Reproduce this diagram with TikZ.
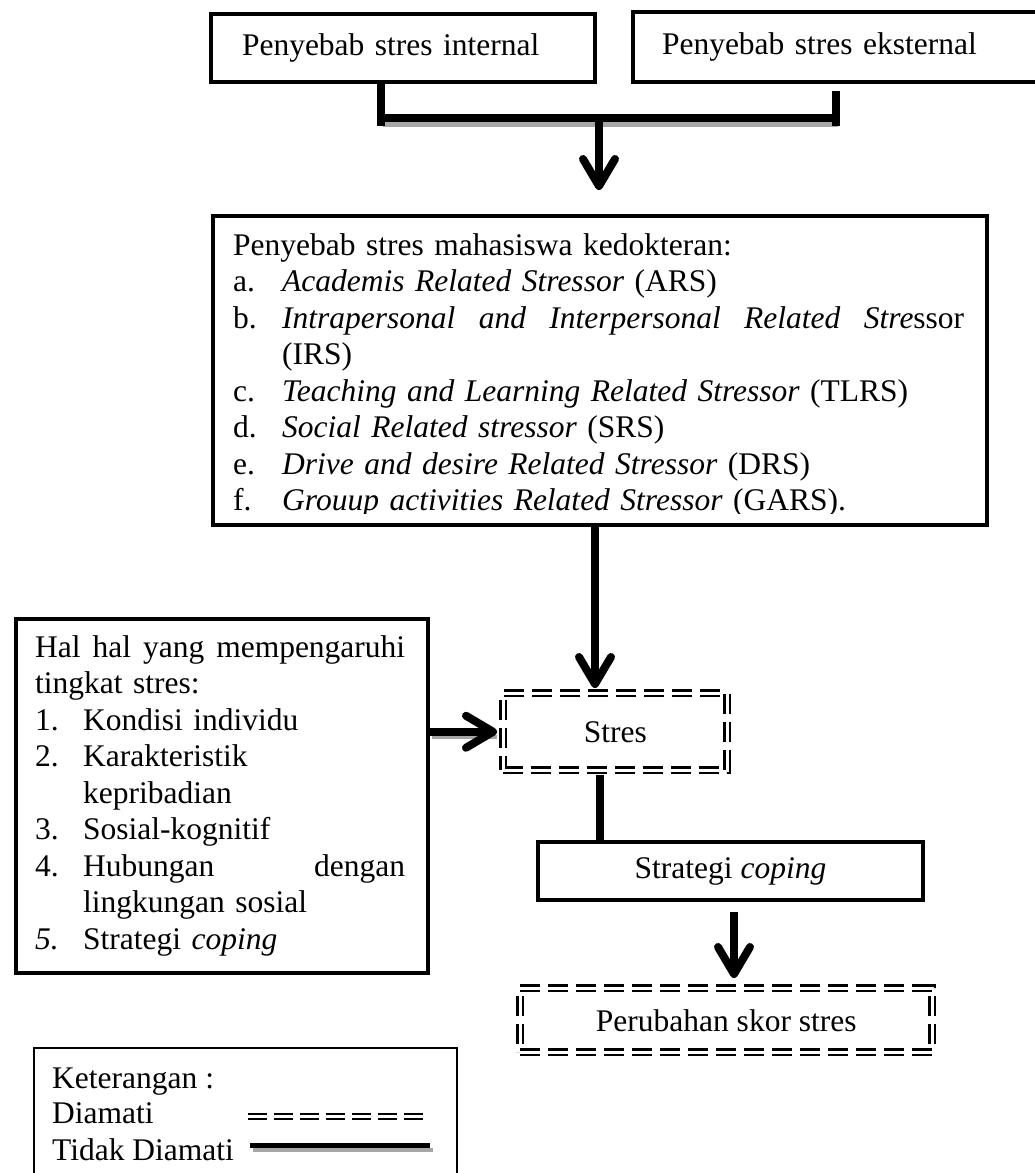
\documentclass[tikz,border=0pt]{standalone}
\usepackage{fontspec}
\setmainfont{Liberation Serif}
\usetikzlibrary{arrows.meta}
\newcommand\myitem[3]{\par\hangindent=#1\hangafter=1\noindent\makebox[#1][l]{#2}#3\par}
\newcommand\parsetup{\hyphenpenalty=10000\exhyphenpenalty=10000\tolerance=10000\hbadness=10000\parindent=0pt\leftskip=0pt\rightskip=0pt\parfillskip=0pt plus 1fil\relax}
\begin{document}
\begin{tikzpicture}[x=1pt,y=-1pt,
  every node/.style={font=\fontsize{31.5}{36.5}\selectfont},
  solidbox/.style={draw, line width=4pt, rectangle, inner sep=0pt, anchor=north west},
  ddbox/.style={draw, dash pattern=on 20pt off 8pt, line width=2.5pt, double, double distance=3pt, rectangle, inner sep=0pt, anchor=north west},
  conn/.style={line width=8pt},
  arr/.style={line width=8pt, -{Straight Barb[length=27pt,width=32pt,round]}},
  shade/.style={line width=5pt, black!35},
  txt/.style={inner sep=0pt, anchor=base west},
]
\useasboundingbox (0,0) rectangle (1035,1173);
\clip (0,0) rectangle (1035,1173);

% boxes
\node[solidbox, minimum width=384pt, minimum height=68pt, text width=322pt, align=left] (box1) at (209,12) {Penyebab stres internal};
\node[solidbox, minimum width=414pt, minimum height=70pt, text width=356pt, align=left] (box2) at (631,10) {Penyebab stres eksternal};
\node[solidbox, minimum width=774pt, minimum height=309pt] (main) at (211,214) {};
\node[solidbox, minimum width=412pt, minimum height=354pt] (infl) at (14,617) {};
\node[ddbox, minimum width=224pt, minimum height=77pt] (stres) at (502,692) {Stres};
\node[solidbox, minimum width=385pt, minimum height=58pt] (strat) at (536,840) {Strategi \textit{coping}};
\node[ddbox, minimum width=412pt, minimum height=64pt] (perub) at (519,987) {Perubahan skor stres};
\node[solidbox, line width=2pt, minimum width=423pt, minimum height=160pt] (legend) at (33,1047) {};

% text of the large boxes
\begin{scope}
\clip (213,216) rectangle (983,513);
\node[txt, text width=731pt] (maintext) at (233,255) {\parsetup Penyebab stres mahasiswa kedokteran:\par
\myitem{49pt}{a.}{\textit{Academis Related Stressor} (ARS)}
\myitem{49pt}{b.}{\textit{Intrapersonal}\hfill\textit{and}\hfill\textit{Interpersonal}\hfill\textit{Related}\hfill{\itshape Stre}ssor\newline (IRS)}
\myitem{49pt}{c.}{\textit{Teaching and Learning Related Stressor} (TLRS)}
\myitem{49pt}{d.}{\textit{Social Related stressor} (SRS)}
\myitem{49pt}{e.}{\textit{Drive and desire Related Stressor} (DRS)}
\myitem{49pt}{f.}{\textit{Grouup activities Related Stressor} (GARS).}};
\end{scope}

\node[txt, text width=370pt] (infltext) at (35,657) {\parsetup Hal\hfill hal\hfill yang\hfill mempengaruhi\newline tingkat stres:\par
\myitem{48pt}{1.}{Kondisi individu}
\myitem{48pt}{2.}{Karakteristik\newline kepribadian}
\myitem{48pt}{3.}{Sosial-kognitif}
\myitem{48pt}{4.}{Hubungan\hfill dengan\newline lingkungan sosial}
\myitem{48pt}{\textit{5.}}{Strategi \textit{coping}}};

% legend
\node[txt] (k1) at (52,1088) {Keterangan :};
\node[txt] (k2) at (52,1123) {Diamati};
\node[txt] (k3) at (52,1160) {Tidak Diamati};
\coordinate (o1) at (248,1116.5);
\coordinate (o2) at (428,1116.5);
\draw[line width=2pt, double, double distance=3pt, dash pattern=on 19pt off 7pt] (o1) -- (o2);
\coordinate (n1) at (250,1145);
\coordinate (n2) at (430,1145);
\draw[shade, line width=4pt] ([shift={(3,5)}]n1) -- ([shift={(3,5)}]n2);
\draw[line width=5pt] (n1) -- (n2);

% top bracket
\coordinate (jl) at (381,118);
\coordinate (jr) at (836,118);
\coordinate (jm) at (599,118);
\draw[shade] ([shift={(2,6)}]jl) -- ([shift={(2,6)}]jr);
\draw[conn] (jl |- box1.south) -- ([shift={(0,8)}]jl);
\draw[conn, shorten <=7pt] (jr |- box2.south) -- ([shift={(0,8)}]jr);
\draw[conn] (jl) -- (jr);
\draw[arr, shorten >=24pt] (jm) -- (jm |- main.north);

% main -> stres
\coordinate (ax) at (595,0);
\draw[arr, shorten >=4pt] (ax |- main.south) -- (ax |- stres.north);

% influences -> stres
\coordinate (la) at (stres.west -| infl.east);
\draw[shade, line width=4pt] ([shift={(2,5)}]la) -- ([shift={(-5,5)}]stres.west);
\draw[arr, shorten >=5pt] (la) -- (stres.west);

% stres -> strategi
\coordinate (sx) at (600,0);
\draw[conn, shorten <=3pt] (sx |- stres.south) -- (sx |- strat.north);

% strategi -> perubahan
\coordinate (bx) at (734,0);
\draw[arr, shorten <=10pt, shorten >=9pt] (bx |- strat.south) -- (bx |- perub.north);
\end{tikzpicture}
\end{document}
